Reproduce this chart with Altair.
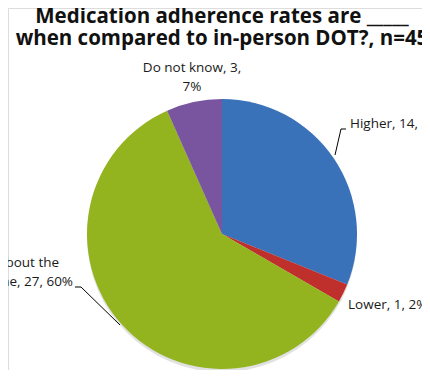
import altair as alt
import pandas as pd

categories = ["Higher", "Lower", "About the same", "Do not know"]
counts = [14, 1, 27, 3]
percents = [31, 2, 60, 7]
colors = ["#3A72BA", "#BF2F2C", "#93B41F", "#7A559F"]
title_lines = ["Medication adherence rates are _____",
               "when compared to in-person DOT?, n=45"]

df = pd.DataFrame({
    "cat": categories,
    "count": counts,
    "pct": percents,
    "idx": list(range(len(categories))),
})
df["label"] = [f"{c}, {n}, {p}%" for c, n, p in zip(categories, counts, percents)]
df.loc[df.cat == "Do not know", "label"] = "Do not know, 3,\n7%"
df.loc[df.cat == "About the same", "label"] = "About the\nsame, 27, 60%"

CX, CY, R = 214, 226, 135
FONT = "Open Sans"

base = alt.Chart(df)

shadow = base.transform_aggregate(total="sum(count)").mark_arc(
    outerRadius=R, color="#888888", opacity=0.25
).encode(theta=alt.Theta("total:Q"), x=alt.value(CX), y=alt.value(CY + 3))

pie = base.mark_arc(outerRadius=R).encode(
    theta=alt.Theta("count:Q", stack=True),
    order=alt.Order("idx:Q"),
    color=alt.Color("cat:N", scale=alt.Scale(domain=categories, range=colors), legend=None),
    x=alt.value(CX),
    y=alt.value(CY),
)

def label(cat, x, y, align):
    return base.transform_filter(alt.datum.cat == cat).mark_text(
        font=FONT, fontSize=13.5, color="#1a1a1a", align=align, baseline="middle",
        lineBreak="\n", lineHeight=19
    ).encode(text="label:N", x=alt.value(x), y=alt.value(y))

labels = [
    label("Higher", 342, 116, "left"),
    label("Lower", 340, 297, "left"),
    label("Do not know", 184, 60, "center"),
    label("About the same", 20, 255, "center"),
]

def seg(x1, y1, x2, y2):
    return alt.Chart(pd.DataFrame({"a": [0]})).mark_rule(color="#000000", strokeWidth=1).encode(
        x=alt.value(x1), y=alt.value(y1), x2=alt.value(x2), y2=alt.value(y2))

leaders = [
    seg(327, 147, 333, 121), seg(333, 121, 338, 121),
    seg(67, 279, 73, 279), seg(73, 279, 112, 317),
]

titles = [
    alt.Chart(pd.DataFrame({"t": [t]})).mark_text(
        font=FONT, fontSize=20.5, fontWeight="bold", color="#111111",
        align="center", baseline="alphabetic"
    ).encode(text="t:N", x=alt.value(CX), y=alt.value(yy))
    for t, yy in zip(title_lines, [15, 37])
]

chart = alt.layer(shadow, pie, *labels, *leaders, *titles).properties(
    width=414, height=362, padding=0, autosize="none"
).configure_view(stroke=None).configure(background="white")

chart.save("out.html", embed_options={"renderer": "svg", "actions": False})
